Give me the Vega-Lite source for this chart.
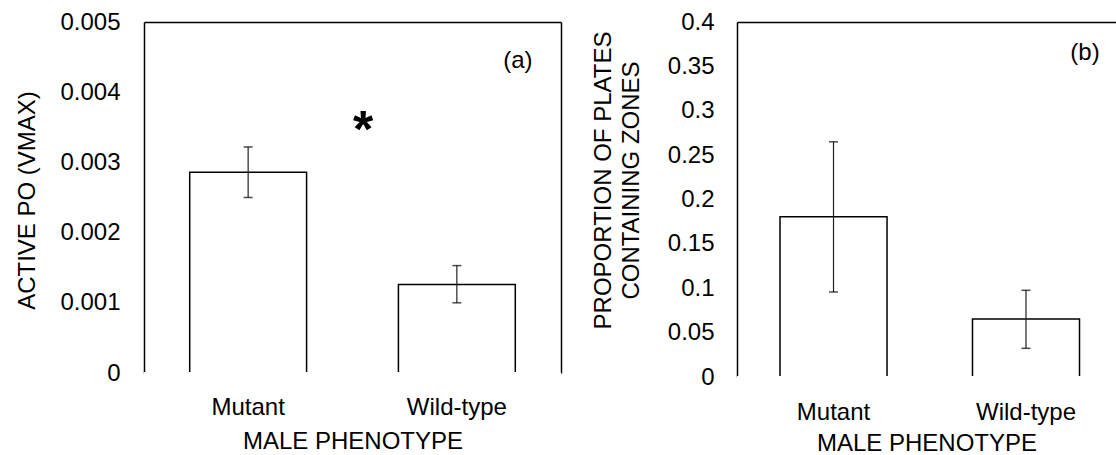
{
  "$schema": "https://vega.github.io/schema/vega-lite/v6.json",
  "padding": {"left": 15, "top": 10, "right": 0, "bottom": 0},
  "spacing": 176,
  "bounds": "flush",
  "config": {
    "view": {"stroke": null},
    "font": "Liberation Sans",
    "axis": {
      "labelFont": "Liberation Sans", "titleFont": "Liberation Sans",
      "labelFontSize": 24, "titleFontSize": 24,
      "labelColor": "black", "titleColor": "black", "titleFontWeight": "normal",
      "domainColor": "black", "domainWidth": 1.5,
      "ticks": false, "tickSize": 0, "grid": false, "zindex": 1
    }
  },
  "hconcat": [
    {
      "width": 417,
      "height": 351,
      "data": {"values": [
        {"phenotype": "Mutant", "mean": 0.00286, "lo": 0.0025, "hi": 0.00322},
        {"phenotype": "Wild-type", "mean": 0.00126, "lo": 0.001, "hi": 0.00153}
      ]},
      "resolve": {"axis": {"x": "independent", "y": "independent"}},
      "layer": [
        {
          "mark": {"type": "bar", "fill": "white", "stroke": "black", "strokeWidth": 1.5},
          "encoding": {
            "x": {"field": "phenotype", "type": "nominal",
              "scale": {"paddingInner": 0.44, "paddingOuter": 0.219},
              "axis": {"orient": "bottom", "domain": false, "labelAngle": 0, "labelPadding": 22,
                "title": "MALE PHENOTYPE", "titleY": 56}},
            "y": {"field": "mean", "type": "quantitative",
              "scale": {"domain": [0, 0.005], "nice": false},
              "axis": {"values": [0, 0.001, 0.002, 0.003, 0.004, 0.005], "format": "~g", "labelPadding": 24,
                "title": "ACTIVE PO (VMAX)", "titleX": -117, "titleY": 178, "titleBaseline": "middle", "titleAngle": 270}}
          }
        },
        {
          "mark": {"type": "rule", "color": "white", "strokeWidth": 2},
          "encoding": {"y": {"datum": 0, "axis": null}}
        },
        {
          "mark": {"type": "rule", "color": "#222222", "strokeWidth": 1.2},
          "encoding": {
            "x": {"field": "phenotype", "type": "nominal",
              "axis": {"orient": "top", "labels": false, "title": null}},
            "y": {"field": "lo", "type": "quantitative",
              "axis": {"orient": "right", "labels": false, "title": null}},
            "y2": {"field": "hi"}
          }
        },
        {
          "mark": {"type": "tick", "color": "black", "size": 9, "thickness": 1.5},
          "encoding": {
            "x": {"field": "phenotype", "type": "nominal", "axis": null},
            "y": {"field": "lo", "type": "quantitative", "axis": null}
          }
        },
        {
          "mark": {"type": "tick", "color": "black", "size": 9, "thickness": 1.5},
          "encoding": {
            "x": {"field": "phenotype", "type": "nominal", "axis": null},
            "y": {"field": "hi", "type": "quantitative", "axis": null}
          }
        },
        {
          "data": {"values": [
            {"phenotype": "Mutant", "y": 0.00322, "label": "*"}
          ]},
          "mark": {"type": "text", "font": "Liberation Sans", "fontSize": 52, "fontWeight": "bold", "dx": 115, "baseline": "alphabetic", "color": "black"},
          "encoding": {
            "x": {"field": "phenotype", "type": "nominal", "axis": null},
            "y": {"field": "y", "type": "quantitative", "axis": null},
            "text": {"field": "label"}
          }
        },
        {
          "data": {"values": [
            {"phenotype": "Wild-type", "y": 0.00444, "label": "(a)"}
          ]},
          "mark": {"type": "text", "font": "Liberation Sans", "fontSize": 24, "dx": 61, "baseline": "middle", "color": "black"},
          "encoding": {
            "x": {"field": "phenotype", "type": "nominal", "axis": null},
            "y": {"field": "y", "type": "quantitative", "axis": null},
            "text": {"field": "label"}
          }
        }
      ]
    },
    {
      "width": 379,
      "height": 355,
      "data": {"values": [
        {"phenotype": "Mutant", "mean": 0.1806, "lo": 0.0958, "hi": 0.265},
        {"phenotype": "Wild-type", "mean": 0.0654, "lo": 0.0323, "hi": 0.0977}
      ]},
      "resolve": {"axis": {"x": "independent", "y": "independent"}},
      "layer": [
        {
          "mark": {"type": "bar", "fill": "white", "stroke": "black", "strokeWidth": 1.5},
          "encoding": {
            "x": {"field": "phenotype", "type": "nominal",
              "scale": {"paddingInner": 0.444, "paddingOuter": 0.2065, "align": 0.541},
              "axis": {"orient": "bottom", "domain": false, "labelAngle": 0, "labelPadding": 23,
                "title": "MALE PHENOTYPE", "titleY": 54}},
            "y": {"field": "mean", "type": "quantitative",
              "scale": {"domain": [0, 0.4], "nice": false},
              "axis": {"values": [0, 0.05, 0.1, 0.15, 0.2, 0.25, 0.3, 0.35, 0.4], "format": "~g", "labelPadding": 23,
                "title": ["PROPORTION OF PLATES", "CONTAINING ZONES"], "titleX": -134, "titleY": 158,
                "titleBaseline": "middle", "titleAngle": 270, "titleLineHeight": 28.6}}
          }
        },
        {
          "mark": {"type": "rule", "color": "white", "strokeWidth": 2},
          "encoding": {"y": {"datum": 0, "axis": null}}
        },
        {
          "mark": {"type": "rule", "color": "#222222", "strokeWidth": 1.2},
          "encoding": {
            "x": {"field": "phenotype", "type": "nominal",
              "axis": {"orient": "top", "labels": false, "title": null}},
            "y": {"field": "lo", "type": "quantitative", "axis": null},
            "y2": {"field": "hi"}
          }
        },
        {
          "mark": {"type": "tick", "color": "black", "size": 9, "thickness": 1.5},
          "encoding": {
            "x": {"field": "phenotype", "type": "nominal", "axis": null},
            "y": {"field": "lo", "type": "quantitative", "axis": null}
          }
        },
        {
          "mark": {"type": "tick", "color": "black", "size": 9, "thickness": 1.5},
          "encoding": {
            "x": {"field": "phenotype", "type": "nominal", "axis": null},
            "y": {"field": "hi", "type": "quantitative", "axis": null}
          }
        },
        {
          "data": {"values": [
            {"phenotype": "Wild-type", "y": 0.365, "label": "(b)"}
          ]},
          "mark": {"type": "text", "font": "Liberation Sans", "fontSize": 24, "dx": 59, "baseline": "middle", "color": "black"},
          "encoding": {
            "x": {"field": "phenotype", "type": "nominal", "axis": null},
            "y": {"field": "y", "type": "quantitative", "axis": null},
            "text": {"field": "label"}
          }
        }
      ]
    }
  ]
}
